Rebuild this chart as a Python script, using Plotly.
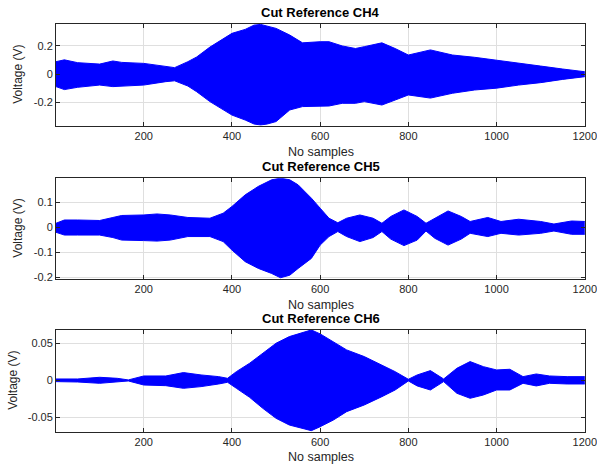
import plotly.graph_objects as go

ch4_samples = [1, 20, 50, 100, 130, 150, 200, 250, 270, 300, 320, 350, 380, 400, 430, 450, 465, 480, 500,
               531, 560, 600, 620, 650, 680, 700, 740, 770, 800, 850, 900, 950, 1000, 1050, 1100, 1150, 1200]
ch4_upper = [0.087, 0.10, 0.08, 0.07, 0.092, 0.082, 0.075, 0.052, 0.045, 0.087, 0.12, 0.19, 0.25, 0.287, 0.315,
             0.345, 0.35, 0.34, 0.322, 0.275, 0.22, 0.228, 0.228, 0.198, 0.18, 0.193, 0.22, 0.18, 0.134, 0.17,
             0.134, 0.118, 0.099, 0.08, 0.056, 0.035, 0.016]
ch4_lower = [-0.089, -0.11, -0.094, -0.078, -0.089, -0.085, -0.078, -0.054, -0.048, -0.085, -0.125, -0.195,
             -0.254, -0.29, -0.325, -0.353, -0.36, -0.353, -0.336, -0.254, -0.23, -0.226, -0.226, -0.207, -0.207,
             -0.195, -0.219, -0.184, -0.148, -0.17, -0.136, -0.113, -0.10, -0.078, -0.061, -0.038, -0.019]

ch5_samples = [1, 20, 50, 100, 130, 150, 200, 230, 260, 300, 350, 380, 400, 430, 460, 490, 510, 531, 550, 580,
               600, 620, 640, 660, 690, 720, 740, 760, 790, 820, 840, 860, 890, 920, 940, 980, 1010, 1050, 1100,
               1130, 1170, 1200]
ch5_upper = [0.016, 0.029, 0.029, 0.027, 0.039, 0.047, 0.049, 0.053, 0.049, 0.039, 0.036, 0.056, 0.083, 0.129,
             0.163, 0.189, 0.196, 0.189, 0.169, 0.116, 0.076, 0.036, 0.018, 0.036, 0.049, 0.036, 0.016, 0.043,
             0.069, 0.043, 0.016, 0.036, 0.065, 0.043, 0.023, 0.039, 0.023, 0.032, 0.023, 0.013, 0.025, 0.023]
ch5_lower = [-0.02, -0.031, -0.031, -0.031, -0.041, -0.051, -0.053, -0.055, -0.051, -0.037, -0.037, -0.057,
             -0.091, -0.137, -0.164, -0.184, -0.201, -0.191, -0.164, -0.124, -0.071, -0.037, -0.017, -0.037,
             -0.057, -0.041, -0.017, -0.047, -0.073, -0.051, -0.015, -0.044, -0.071, -0.047, -0.024, -0.037,
             -0.024, -0.031, -0.024, -0.015, -0.028, -0.028]

ch6_samples = [1, 50, 100, 140, 165, 200, 250, 290, 330, 370, 390, 410, 440, 470, 500, 530, 560, 580, 600, 630,
               660, 700, 740, 770, 800, 820, 850, 880, 910, 940, 970, 1000, 1030, 1060, 1090, 1120, 1160, 1200]
ch6_upper = [0.0018, 0.0018, 0.0041, 0.0027, 0.0005, 0.0059, 0.0059, 0.0105, 0.0073, 0.005, 0.0027, 0.0118,
             0.0232, 0.0368, 0.0505, 0.0595, 0.065, 0.0686, 0.0632, 0.0527, 0.0414, 0.0323, 0.0209, 0.0118,
             0.0014, 0.0073, 0.0132, 0.0018, 0.0164, 0.0255, 0.0186, 0.0141, 0.015, 0.005, 0.0086, 0.0059,
             0.005, 0.005]
ch6_lower = [-0.0018, -0.0023, -0.0041, -0.0027, -0.0009, -0.0064, -0.0073, -0.0109, -0.0086, -0.005, -0.0027,
             -0.0109, -0.0232, -0.0382, -0.0518, -0.0609, -0.0655, -0.0686, -0.0632, -0.0541, -0.0427, -0.0336,
             -0.0223, -0.0132, -0.0009, -0.0077, -0.0132, -0.0018, -0.0177, -0.0245, -0.02, -0.0132, -0.0132,
             -0.0041, -0.0077, -0.0041, -0.005, -0.005]

titles = ["Cut Reference CH4", "Cut Reference CH5", "Cut Reference CH6"]
x_ticks = [200, 400, 600, 800, 1000, 1200]
y_ticks = [[-0.2, 0, 0.2], [-0.2, -0.1, 0, 0.1], [-0.05, 0, 0.05]]
y_tick_text = [["-0.2", "0", "0.2"], ["-0.2", "-0.1", "0", "0.1"], ["-0.05", "0", "0.05"]]
y_ranges = [[-0.365, 0.353], [-0.206, 0.195], [-0.070, 0.0685]]

# ---- layout geometry ----
W, H = 597, 468
x_left, x_right = 56, 585
panels_px = [(24, 125.7), (178.3, 279), (330, 431.7)]  # top, bottom in pixels
title_y_px = [12.5, 166, 318.5]
xlabel_y_px = [152, 305, 456.5]
ylabel_x_px = [18, 18, 13]

series = [(ch4_samples, ch4_upper, ch4_lower),
          (ch5_samples, ch5_upper, ch5_lower),
          (ch6_samples, ch6_upper, ch6_lower)]

fig = go.Figure()
axis_color = "#262626"
grid_color = "#dfdfdf"
font_fam = "Liberation Sans, Arial, sans-serif"

annotations = []
for i, (s, up, lo) in enumerate(series):
    xa = "x" if i == 0 else f"x{i+1}"
    ya = "y" if i == 0 else f"y{i+1}"
    fig.add_trace(go.Scatter(x=s, y=up, mode="lines", line=dict(color="#0000ff", width=1),
                             xaxis=xa, yaxis=ya, showlegend=False, hoverinfo="skip"))
    fig.add_trace(go.Scatter(x=s, y=lo, mode="lines", line=dict(color="#0000ff", width=1),
                             fill="tonexty", fillcolor="#0000ff",
                             xaxis=xa, yaxis=ya, showlegend=False, hoverinfo="skip"))
    top, bot = panels_px[i]
    dom = [1 - bot / H, 1 - top / H]
    xkey = "xaxis" if i == 0 else f"xaxis{i+1}"
    ykey = "yaxis" if i == 0 else f"yaxis{i+1}"
    fig.update_layout({
        xkey: dict(domain=[x_left / W, x_right / W], range=[1, 1200.5], anchor=ya, automargin=False,
                   tickvals=x_ticks, ticktext=[str(v) for v in x_ticks], ticklabeloverflow="allow",
                   showgrid=True, gridcolor=grid_color, gridwidth=1,
                   showline=True, linecolor=axis_color, linewidth=1, mirror="ticks",
                   ticks="inside", ticklen=4, tickcolor=axis_color,
                   tickfont=dict(family=font_fam, size=11, color="#262626"),
                   zeroline=False),
        ykey: dict(domain=dom, range=y_ranges[i], anchor=xa, automargin=False,
                   tickvals=y_ticks[i], ticktext=y_tick_text[i], ticklabeloverflow="allow",
                   showgrid=True, gridcolor=grid_color, gridwidth=1,
                   showline=True, linecolor=axis_color, linewidth=1, mirror="ticks",
                   ticks="inside", ticklen=4, tickcolor=axis_color,
                   tickfont=dict(family=font_fam, size=11, color="#262626"),
                   zeroline=False),
    })
    cx = (x_left + x_right) / 2 / W
    annotations.append(dict(text="<b>" + titles[i] + "</b>", x=cx, y=1 - title_y_px[i] / H,
                            xref="paper", yref="paper", showarrow=False, xanchor="center", yanchor="middle",
                            font=dict(family=font_fam, size=13, color="#000000")))
    annotations.append(dict(text="No samples", x=cx, y=1 - xlabel_y_px[i] / H,
                            xref="paper", yref="paper", showarrow=False, xanchor="center", yanchor="middle",
                            font=dict(family=font_fam, size=12.5, color="#262626")))
    annotations.append(dict(text="Voltage (V)", x=ylabel_x_px[i] / W, y=1 - (top + bot) / 2 / H,
                            xref="paper", yref="paper", showarrow=False, textangle=-90,
                            xanchor="center", yanchor="middle",
                            font=dict(family=font_fam, size=12, color="#262626")))

fig.update_layout(width=W, height=H, margin=dict(l=0, r=0, t=0, b=0),
                  paper_bgcolor="white", plot_bgcolor="white",
                  annotations=annotations, showlegend=False)

fig.write_html("out.html", config={"displayModeBar": False},
               post_script="document.body.style.margin='0';document.body.style.overflow='hidden';")
